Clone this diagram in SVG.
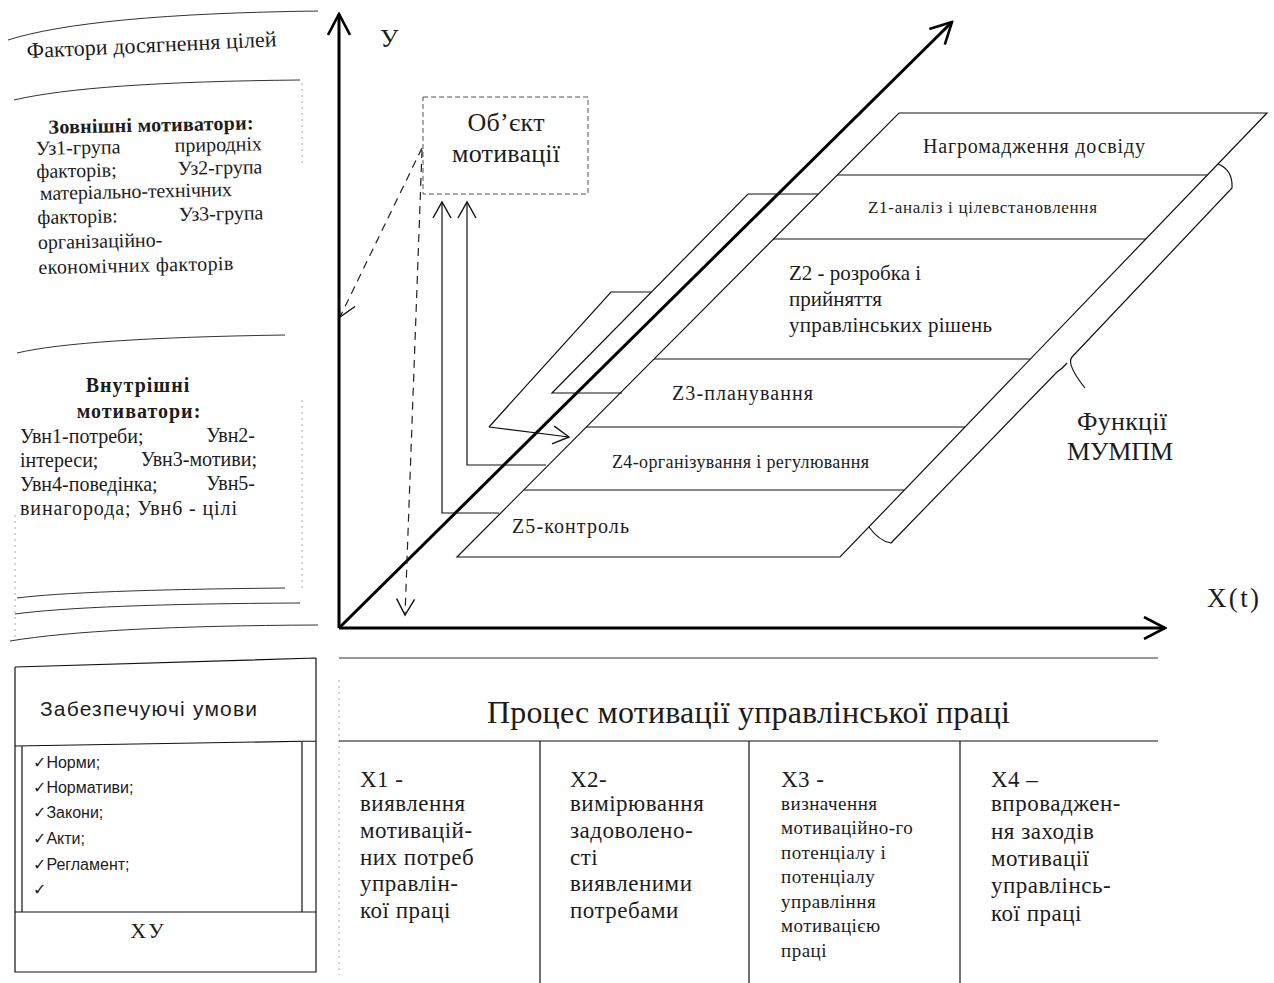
<svg xmlns="http://www.w3.org/2000/svg" width="1274" height="983" viewBox="0 0 1274 983">
  <style>
    .serif { font-family: "Liberation Serif", "Times New Roman", serif; fill: #1c1c1c; }
    .sans { font-family: "Liberation Sans", "DejaVu Sans", sans-serif; fill: #1c1c1c; }
    .ln { fill: none; stroke: #111; stroke-width: 1.2; }
    .thin { fill: none; stroke: #333; stroke-width: 1; }
    .axis { fill: none; stroke: #000; stroke-width: 3; }
    .dash { fill: none; stroke: #222; stroke-width: 1.2; stroke-dasharray: 8 6; }
    .dot { fill: none; stroke: #aaa; stroke-width: 1; stroke-dasharray: 2 4; }
    .col { font-size: 23px; letter-spacing: 0.5px; }
    .col3 { font-size: 19px; letter-spacing: 0.5px; }
    .lp { font-size: 20px; }
  </style>
  <defs>
    <marker id="vee" viewBox="0 0 20 20" refX="18" refY="10" markerWidth="20" markerHeight="20" markerUnits="userSpaceOnUse" orient="auto">
      <path d="M2,1 L18,10 L2,19" fill="none" stroke="#111" stroke-width="1.4"/>
    </marker>
    <marker id="veeAxis" viewBox="0 0 24 24" refX="22" refY="12" markerWidth="24" markerHeight="24" markerUnits="userSpaceOnUse" orient="auto">
      <path d="M1,1 L22,12 L1,23" fill="none" stroke="#000" stroke-width="2.6"/>
    </marker>
  </defs>

  <rect width="1274" height="983" fill="#fff"/>

  <!-- Left panel: factors of goal achievement -->
  <g id="factors">
    <path class="thin" d="M8,40 Q90,14 318,11"/>
    <path class="thin" d="M14,100 Q90,82 300,80"/>
    <path class="thin" d="M17,353 Q80,338 285,335"/>
    <path class="thin" d="M17,598 Q80,590 285,588"/>
    <path class="thin" d="M15,614 Q90,604 300,603"/>
    <path class="thin" d="M10,641 Q100,626 318,625"/>
    <line class="dot" x1="302" y1="83" x2="302" y2="167"/>
    <line class="dot" x1="302" y1="400" x2="302" y2="592"/>
    <line class="dot" x1="15" y1="515" x2="15" y2="640"/>
    <text class="serif" x="27" y="58" font-size="22" textLength="250" transform="rotate(-2.7 27 58)">Фактори досягнення цілей</text>
    <g transform="rotate(-1.2 37 200)">
      <text class="serif lp" x="50" y="134" font-weight="bold" textLength="205">Зовнішні мотиватори:</text>
      <text class="serif lp" x="37" y="155">Уз1-група</text>
      <text class="serif lp" x="263" y="155" text-anchor="end">природніх</text>
      <text class="serif lp" x="37" y="178">факторів;</text>
      <text class="serif lp" x="263" y="178" text-anchor="end">Уз2-група</text>
      <text class="serif lp" x="40" y="200" textLength="192">матеріально-технічних</text>
      <text class="serif lp" x="37" y="224">факторів:</text>
      <text class="serif lp" x="263" y="224" text-anchor="end">Уз3-група</text>
      <text class="serif lp" x="37" y="249">організаційно-</text>
      <text class="serif lp" x="37" y="274" textLength="195">економічних факторів</text>
    </g>
    <text class="serif lp" x="138" y="392" font-weight="bold" text-anchor="middle" letter-spacing="1">Внутрішні</text>
    <text class="serif lp" x="139" y="418" font-weight="bold" text-anchor="middle" letter-spacing="1">мотиватори:</text>
    <text class="serif lp" x="20" y="443">Увн1-потреби;</text>
    <text class="serif lp" x="255" y="442" text-anchor="end">Увн2-</text>
    <text class="serif lp" x="20" y="467">інтереси;</text>
    <text class="serif lp" x="257" y="466" text-anchor="end">Увн3-мотиви;</text>
    <text class="serif lp" x="20" y="491">Увн4-поведінка;</text>
    <text class="serif lp" x="255" y="490" text-anchor="end">Увн5-</text>
    <text class="serif lp" x="20" y="515" textLength="217">винагорода; Увн6 - цілі</text>
  </g>

  <!-- Coordinate axes -->
  <g id="axes">
    <line class="axis" x1="339" y1="628" x2="339" y2="14" marker-end="url(#veeAxis)"/>
    <line class="axis" x1="339" y1="628" x2="1165" y2="628" marker-end="url(#veeAxis)"/>
    <line class="axis" x1="339" y1="628" x2="952" y2="22" marker-end="url(#veeAxis)"/>
    <text class="serif" x="380" y="47" font-size="26">У</text>
    <text class="serif" x="1207" y="607" font-size="27" textLength="52">X(t)</text>
  </g>

  <!-- Object of motivation -->
  <g id="object">
    <rect x="423" y="97" width="165" height="97" fill="none" stroke="#555" stroke-width="1" stroke-dasharray="5 3"/>
    <text class="serif" x="506" y="131" font-size="26" text-anchor="middle" textLength="77">Об’єкт</text>
    <text class="serif" x="506" y="162" font-size="26" text-anchor="middle" textLength="108">мотивації</text>
  </g>

  <!-- Rear planes -->
  <g id="plane-a">
    <polyline class="ln" points="651,292 611,292 489,427"/>
  </g>
  <g id="plane-b">
    <polyline class="ln" points="818,194 748,194 552,393 622,393"/>
  </g>

  <!-- Management functions plane -->
  <g id="functions">
    <polygon class="ln" points="899,113 1267,113 840,557 457,557"/>
    <line class="ln" x1="837" y1="175" x2="1207" y2="175"/>
    <line class="ln" x1="773" y1="239" x2="1146" y2="239"/>
    <line class="ln" x1="654" y1="359" x2="1030" y2="359"/>
    <line class="ln" x1="586" y1="427" x2="965" y2="427"/>
    <line class="ln" x1="524" y1="490" x2="904" y2="490"/>
    <text class="serif" x="923" y="153" font-size="20" textLength="222">Нагромадження досвіду</text>
    <text class="serif" x="868" y="213" font-size="17" textLength="229">Z1-аналіз і цілевстановлення</text>
    <text class="serif" x="789" y="280" font-size="21">Z2 - розробка  і</text>
    <text class="serif" x="789" y="306" font-size="21">прийняття</text>
    <text class="serif" x="789" y="332" font-size="21" textLength="203">управлінських рішень</text>
    <text class="serif" x="672" y="400" font-size="20" textLength="141">Z3-планування</text>
    <text class="serif" x="612" y="468" font-size="18" textLength="257">Z4-організування і регулювання</text>
    <text class="serif" x="512" y="533" font-size="20" textLength="117">Z5-контроль</text>
  </g>

  <!-- Brace with label -->
  <g id="mumpm">
    <path class="ln" d="M1218,164 Q1233,170 1232,188 L1072,357 Q1066,364 1085,388 M1067,363 Q1062,369 1057,372 L891,543 Q879,541 869,527"/>
    <text class="serif" x="1122" y="430" font-size="26" text-anchor="middle" textLength="90">Функції</text>
    <text class="serif" x="1120" y="460" font-size="26" text-anchor="middle" textLength="106">МУМПМ</text>
  </g>

  <!-- Connectors -->
  <g id="connectors">
    <polyline class="ln" points="499,513 442,513 442,202" marker-end="url(#vee)"/>
    <polyline class="ln" points="546,465 467,465 467,202" marker-end="url(#vee)"/>
    <line class="ln" x1="489" y1="427" x2="569" y2="437" marker-end="url(#vee)"/>
    <line class="dash" x1="422" y1="150" x2="405" y2="615" marker-end="url(#vee)"/>
    <line class="dash" x1="422" y1="148" x2="340" y2="317" marker-end="url(#vee)"/>
  </g>

  <!-- Supporting conditions -->
  <g id="conditions">
    <path class="ln" d="M15,667 L316,658 M15,667 V972 H316 V658 M15,746 L316,741 M22,746 V912 M302,741 V912 M15,912 H316"/>
    <text class="sans" x="40" y="716" font-size="21" textLength="217">Забезпечуючі умови</text>
    <text class="sans" x="33" y="768" font-size="16">✓Норми;</text>
    <text class="sans" x="33" y="793" font-size="16">✓Нормативи;</text>
    <text class="sans" x="33" y="818" font-size="16">✓Закони;</text>
    <text class="sans" x="33" y="844" font-size="16">✓Акти;</text>
    <text class="sans" x="33" y="870" font-size="16">✓Регламент;</text>
    <text class="sans" x="33" y="895" font-size="16">✓</text>
    <text class="serif" x="148" y="938" font-size="22" text-anchor="middle" letter-spacing="2">XУ</text>
  </g>

  <!-- Motivation process table -->
  <g id="process">
    <line class="thin" x1="339" y1="658" x2="1158" y2="658"/>
    <line class="dot" x1="339" y1="680" x2="339" y2="975"/>
    <line class="ln" x1="339" y1="741" x2="1158" y2="741"/>
    <line class="ln" x1="540" y1="741" x2="540" y2="983"/>
    <line class="ln" x1="749" y1="741" x2="749" y2="983"/>
    <line class="ln" x1="960" y1="741" x2="960" y2="983"/>
    <text class="serif" x="487" y="723" font-size="32" textLength="523">Процес мотивації управлінської праці</text>

    <g id="x1">
      <text class="serif col" x="360" y="787">X1 -</text>
      <text class="serif col" x="360" y="811">виявлення</text>
      <text class="serif col" x="360" y="838">мотивацій-</text>
      <text class="serif col" x="360" y="865">них потреб</text>
      <text class="serif col" x="360" y="891">управлін-</text>
      <text class="serif col" x="360" y="918">кої праці</text>
    </g>
    <g id="x2">
      <text class="serif col" x="570" y="787">X2-</text>
      <text class="serif col" x="570" y="811">вимірювання</text>
      <text class="serif col" x="570" y="838">задоволено-</text>
      <text class="serif col" x="570" y="865">сті</text>
      <text class="serif col" x="570" y="891">виявленими</text>
      <text class="serif col" x="570" y="918">потребами</text>
    </g>
    <g id="x3">
      <text class="serif col" x="781" y="787">X3 -</text>
      <text class="serif col3" x="781" y="810">визначення</text>
      <text class="serif col3" x="781" y="834">мотиваційно-го</text>
      <text class="serif col3" x="781" y="859">потенціалу і</text>
      <text class="serif col3" x="781" y="883">потенціалу</text>
      <text class="serif col3" x="781" y="908">управління</text>
      <text class="serif col3" x="781" y="932">мотивацією</text>
      <text class="serif col3" x="781" y="957">праці</text>
    </g>
    <g id="x4">
      <text class="serif col" x="991" y="787">X4 –</text>
      <text class="serif col" x="991" y="811">впроваджен-</text>
      <text class="serif col" x="991" y="839">ня заходів</text>
      <text class="serif col" x="991" y="866">мотивації</text>
      <text class="serif col" x="991" y="893">управлінсь-</text>
      <text class="serif col" x="991" y="921">кої праці</text>
    </g>
  </g>
</svg>
